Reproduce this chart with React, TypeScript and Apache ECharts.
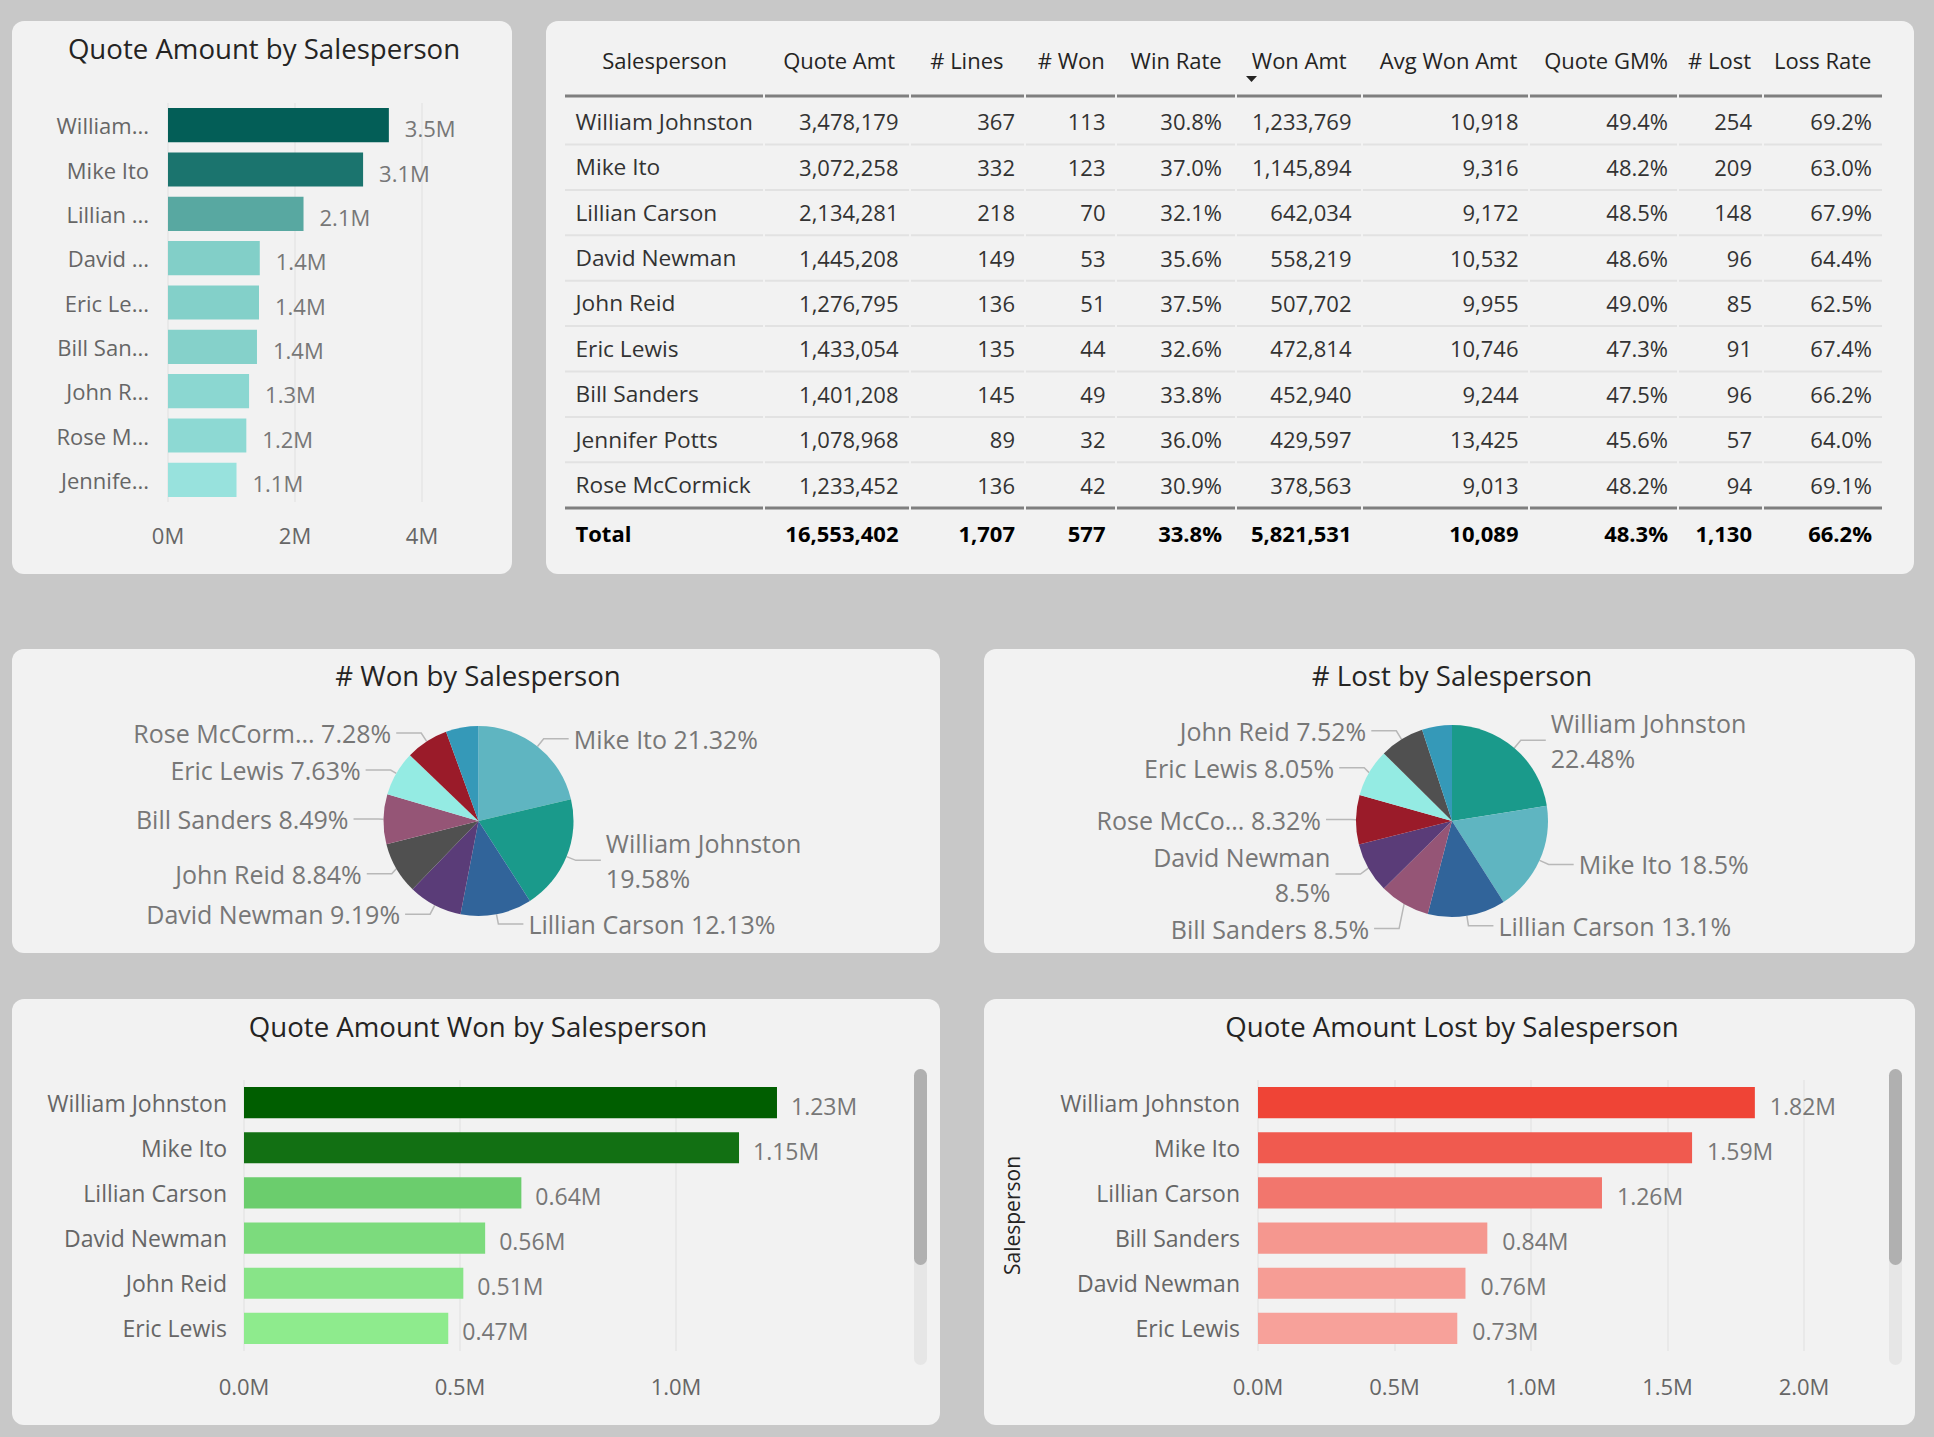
import React, { useEffect, useRef } from "react";
import * as echarts from "echarts";

const FONT = '"Open Sans", "Noto Sans", sans-serif';

// ---------- Table data ----------
const tableHeaders = ["Salesperson", "Quote Amt", "# Lines", "# Won", "Win Rate", "Won Amt", "Avg Won Amt", "Quote GM%", "# Lost", "Loss Rate"];
const tableNames = ["William Johnston", "Mike Ito", "Lillian Carson", "David Newman", "John Reid", "Eric Lewis", "Bill Sanders", "Jennifer Potts", "Rose McCormick"];
const tQuoteAmt = [3478179, 3072258, 2134281, 1445208, 1276795, 1433054, 1401208, 1078968, 1233452];
const tLines = [367, 332, 218, 149, 136, 135, 145, 89, 136];
const tWon = [113, 123, 70, 53, 51, 44, 49, 32, 42];
const tWinRate = [30.8, 37.0, 32.1, 35.6, 37.5, 32.6, 33.8, 36.0, 30.9];
const tWonAmt = [1233769, 1145894, 642034, 558219, 507702, 472814, 452940, 429597, 378563];
const tAvgWonAmt = [10918, 9316, 9172, 10532, 9955, 10746, 9244, 13425, 9013];
const tQuoteGM = [49.4, 48.2, 48.5, 48.6, 49.0, 47.3, 47.5, 45.6, 48.2];
const tLost = [254, 209, 148, 96, 85, 91, 96, 57, 94];
const tLossRate = [69.2, 63.0, 67.9, 64.4, 62.5, 67.4, 66.2, 64.0, 69.1];
const tTotals = { quoteAmt: 16553402, lines: 1707, won: 577, winRate: 33.8, wonAmt: 5821531, avgWonAmt: 10089, quoteGM: 48.3, lost: 1130, lossRate: 66.2 };

// ---------- Quote Amount by Salesperson ----------
const quoteCats = ["William Johnston", "Mike Ito", "Lillian Carson", "David Newman", "Eric Lewis", "Bill Sanders", "John Reid", "Rose McCormick", "Jennifer Potts"];
const quoteCatLabels = ["William...", "Mike Ito", "Lillian ...", "David ...", "Eric Le...", "Bill San...", "John R...", "Rose M...", "Jennife..."];
const quoteValues = [3478179, 3072258, 2134281, 1445208, 1433054, 1401208, 1276795, 1233452, 1078968];
const quoteTicks = [0, 2000000, 4000000];

// ---------- # Won / # Lost pies ----------
const wonPieNames = ["Mike Ito", "William Johnston", "Lillian Carson", "David Newman", "John Reid", "Bill Sanders", "Eric Lewis", "Rose McCormick", "Jennifer Potts"];
const wonPieValues = [123, 113, 70, 53, 51, 49, 44, 42, 32];
const wonPieLabels = ["Mike Ito", "William Johnston", "Lillian Carson", "David Newman", "John Reid", "Bill Sanders", "Eric Lewis", "Rose McCorm...", ""];
const wonPieWrapped = ["William Johnston"];

const lostPieNames = ["William Johnston", "Mike Ito", "Lillian Carson", "Bill Sanders", "David Newman", "Rose McCormick", "Eric Lewis", "John Reid", "Jennifer Potts"];
const lostPieValues = [254, 209, 148, 96, 96, 94, 91, 85, 57];
const lostPieLabels = ["William Johnston", "Mike Ito", "Lillian Carson", "Bill Sanders", "David Newman", "Rose McCo...", "Eric Lewis", "John Reid", ""];
const lostPieWrapped = ["William Johnston", "David Newman"];

// ---------- Quote Amount Won / Lost ----------
const wonBarCats = ["William Johnston", "Mike Ito", "Lillian Carson", "David Newman", "John Reid", "Eric Lewis"];
const wonBarValues = [1233769, 1145894, 642034, 558219, 507702, 472814];
const lostBarCats = ["William Johnston", "Mike Ito", "Lillian Carson", "Bill Sanders", "David Newman", "Eric Lewis"];
const lostBarValues = [1820000, 1590000, 1260000, 840000, 760000, 730000];

// ---------- Styles ----------
const quotePalette = ["#035E57", "#1B746E", "#58A8A1", "#82CFC8", "#83D0C9", "#85D1CA", "#8BD7D1", "#8DD9D3", "#98E2DD"];
const wonPalette = ["#005E00", "#127013", "#6BCD6D", "#7CDB7D", "#88E488", "#8EEB8D"];
const lostPalette = ["#EF4436", "#F05A4F", "#F2766D", "#F5978F", "#F69D95", "#F7A19A"];
const personColor: Record<string, string> = {
  "William Johnston": "#1A9A8B",
  "Mike Ito": "#5FB5C1",
  "Lillian Carson": "#31649A",
  "David Newman": "#5A3C78",
  "John Reid": "#505050",
  "Bill Sanders": "#955576",
  "Eric Lewis": "#94EBE3",
  "Rose McCormick": "#9A1B29",
  "Jennifer Potts": "#3599B8",
};

const panels = [
  { x: 12, y: 21, w: 500, h: 553 },
  { x: 546, y: 21, w: 1368, h: 553 },
  { x: 12, y: 649, w: 928, h: 304 },
  { x: 984, y: 649, w: 931, h: 304 },
  { x: 12, y: 999, w: 928, h: 426 },
  { x: 984, y: 999, w: 931, h: 426 },
];

const fmtInt = (v: number) => v.toLocaleString("en-US");
const fmtPct = (v: number) => v.toFixed(1) + "%";

function txt(text: string, x: number, y: number, align: string, font: string, fill: string) {
  return {
    type: "text",
    x,
    y,
    silent: true,
    style: { text, font, fill, textAlign: align, align, textVerticalAlign: "middle", verticalAlign: "middle" },
  };
}

function buildTable() {
  const els: any[] = [];
  const font = `22px ${FONT}`;
  const nameFont = `22.7px ${FONT}`;
  const bold = `bold 22px ${FONT}`;
  const bounds = [565, 764, 910, 1025, 1116, 1236, 1362, 1529, 1678, 1763, 1883];
  const dataRight = [0, 898.5, 1015, 1105.5, 1222, 1351.5, 1518.5, 1668, 1752, 1872];
  const headRight = [0, 895, 1003.5, 1104.7, 1221.7, 1346.7, 1517.3, 1667.9, 1751, 1871.4];
  const headerY = 60;
  const rowY0 = 121.3;
  const rowStep = 45.4;
  tableHeaders.forEach((h, c) => {
    if (c === 0) els.push(txt(h, 664.6, headerY, "center", font, "#252423"));
    else els.push(txt(h, headRight[c], headerY, "right", font, "#252423"));
  });
  els.push({ type: "polygon", silent: true, shape: { points: [[1246, 76], [1257, 76], [1251.5, 82]] }, style: { fill: "#252423" } });
  const segLine = (y: number, color: string, w: number) => {
    for (let c = 0; c < bounds.length - 1; c++) {
      els.push({
        type: "line",
        silent: true,
        shape: { x1: bounds[c] + (c === 0 ? 0 : 1), y1: y, x2: bounds[c + 1] - 1, y2: y },
        style: { stroke: color, lineWidth: w },
      });
    }
  };
  segLine(96, "#7f7f7f", 3);
  segLine(508, "#7f7f7f", 3);
  tableNames.forEach((name, r) => {
    const y = rowY0 + r * rowStep;
    const cells = [
      fmtInt(tQuoteAmt[r]), fmtInt(tLines[r]), fmtInt(tWon[r]), fmtPct(tWinRate[r]), fmtInt(tWonAmt[r]),
      fmtInt(tAvgWonAmt[r]), fmtPct(tQuoteGM[r]), fmtInt(tLost[r]), fmtPct(tLossRate[r]),
    ];
    els.push(txt(name, 575.5, y, "left", nameFont, "#333333"));
    cells.forEach((v, i) => els.push(txt(v, dataRight[i + 1], y, "right", font, "#333333")));
    if (r < tableNames.length - 1) segLine(y + rowStep / 2 + 0.5, "#e2e2e2", 2);
  });
  const ty = 533.2;
  const tcells = [
    fmtInt(tTotals.quoteAmt), fmtInt(tTotals.lines), fmtInt(tTotals.won), fmtPct(tTotals.winRate), fmtInt(tTotals.wonAmt),
    fmtInt(tTotals.avgWonAmt), fmtPct(tTotals.quoteGM), fmtInt(tTotals.lost), fmtPct(tTotals.lossRate),
  ];
  els.push(txt("Total", 575.5, ty, "left", bold, "#000000"));
  tcells.forEach((v, i) => els.push(txt(v, dataRight[i + 1], ty, "right", bold, "#000000")));
  return els;
}

function scrollbar(x: number) {
  return [
    { type: "rect", silent: true, shape: { x, y: 1069, width: 13, height: 296, r: 6.5 }, style: { fill: "#e6e6e6" } },
    { type: "rect", silent: true, shape: { x, y: 1069, width: 13, height: 196, r: 6.5 }, style: { fill: "#b0b0b0" } },
  ];
}

const titleFont = `27.6px ${FONT}`;
const titles = [
  txt("Quote Amount by Salesperson", 264, 48, "center", titleFont, "#252423"),
  txt("# Won by Salesperson", 478, 675, "center", titleFont, "#252423"),
  txt("# Lost by Salesperson", 1452, 675, "center", titleFont, "#252423"),
  txt("Quote Amount Won by Salesperson", 478, 1026, "center", titleFont, "#252423"),
  txt("Quote Amount Lost by Salesperson", 1452, 1026, "center", titleFont, "#252423"),
];

const axisText = { color: "#666666", fontSize: 22, fontFamily: FONT };
const catText = { color: "#666666", fontSize: 23, fontFamily: FONT };
const gridLine = { lineStyle: { color: "#e6e6e6", width: 1.5 } };

function pieSeries(names: string[], values: number[], labels: string[], wrapped: string[], cx: number, cy: number, r: number) {
  const total = values.reduce((a, b) => a + b, 0);
  return {
    type: "pie",
    center: [cx, cy],
    radius: r,
    startAngle: 90,
    clockwise: true,
    silent: true,
    avoidLabelOverlap: true,
    data: names.map((n, i) => ({
      name: n,
      value: values[i],
      itemStyle: { color: personColor[n] },
      ...(labels[i] ? {} : { label: { show: false }, labelLine: { show: false } }),
    })),
    label: {
      show: true,
      position: "outside",
      color: "#777777",
      fontSize: 25,
      fontFamily: FONT,
      lineHeight: 35,
      formatter: (p: any) => {
        const pct = String(Math.round((values[p.dataIndex] / total) * 10000) / 100) + "%";
        const nm = labels[p.dataIndex];
        return wrapped.includes(p.name) ? nm + "\n" + pct : nm + " " + pct;
      },
    },
    labelLine: { show: true, length: 10, length2: 25, lineStyle: { color: "#b8b8b8", width: 1.5 } },
  };
}

function buildOption() {
  return {
    animation: false,
    backgroundColor: "transparent",
    textStyle: { fontFamily: FONT },
    grid: [
      { left: 168, top: 103, width: 254, height: 399 },
      { left: 244, top: 1080, width: 648, height: 271 },
      { left: 1258, top: 1080, width: 546, height: 271 },
    ],
    xAxis: [
      {
        type: "value", gridIndex: 0, min: quoteTicks[0], max: quoteTicks[quoteTicks.length - 1], interval: quoteTicks[1] - quoteTicks[0],
        axisLabel: { ...axisText, margin: 22, formatter: (v: number) => (v / 1e6).toFixed(0) + "M" },
        axisLine: { show: false }, axisTick: { show: false }, splitLine: gridLine,
      },
      {
        type: "value", gridIndex: 1, min: 0, max: 1500000, interval: 500000,
        axisLabel: { ...axisText, margin: 24, showMaxLabel: false, formatter: (v: number) => (v / 1e6).toFixed(1) + "M" },
        axisLine: { show: false }, axisTick: { show: false }, splitLine: { ...gridLine, showMaxLine: false },
      },
      {
        type: "value", gridIndex: 2, min: 0, max: 2000000, interval: 500000,
        axisLabel: { ...axisText, margin: 24, formatter: (v: number) => (v / 1e6).toFixed(1) + "M" },
        axisLine: { show: false }, axisTick: { show: false }, splitLine: gridLine,
      },
    ],
    yAxis: [
      {
        type: "category", gridIndex: 0, data: quoteCats, inverse: true,
        axisLabel: { ...axisText, margin: 19, formatter: (_v: string, i: number) => quoteCatLabels[i] },
        axisLine: { show: false }, axisTick: { show: false },
      },
      {
        type: "category", gridIndex: 1, data: wonBarCats, inverse: true,
        axisLabel: { ...catText, margin: 17 },
        axisLine: { show: false }, axisTick: { show: false },
      },
      {
        type: "category", gridIndex: 2, data: lostBarCats, inverse: true,
        name: "Salesperson", nameLocation: "middle", nameRotate: 90, nameGap: 236,
        nameTextStyle: { color: "#252423", fontSize: 21, fontFamily: FONT },
        axisLabel: { ...catText, margin: 18 },
        axisLine: { show: false }, axisTick: { show: false },
      },
    ],
    series: [
      {
        type: "bar", xAxisIndex: 0, yAxisIndex: 0, barCategoryGap: "23%", silent: true,
        data: quoteValues.map((v, i) => ({ value: v, itemStyle: { color: quotePalette[i] } })),
        label: {
          show: true, position: "right", distance: 16, offset: [0, 3], color: "#777777", fontSize: 22, fontFamily: FONT,
          formatter: (p: any) => (p.value / 1e6).toFixed(1) + "M",
        },
      },
      pieSeries(wonPieNames, wonPieValues, wonPieLabels, wonPieWrapped, 478.5, 821, 95),
      pieSeries(lostPieNames, lostPieValues, lostPieLabels, lostPieWrapped, 1452, 821, 96),
      {
        type: "bar", xAxisIndex: 1, yAxisIndex: 1, barCategoryGap: "31%", silent: true,
        data: wonBarValues.map((v, i) => ({ value: v, itemStyle: { color: wonPalette[i] } })),
        label: {
          show: true, position: "right", distance: 14, offset: [0, 3], color: "#777777", fontSize: 23, fontFamily: FONT,
          formatter: (p: any) => (p.value / 1e6).toFixed(2) + "M",
        },
      },
      {
        type: "bar", xAxisIndex: 2, yAxisIndex: 2, barCategoryGap: "31%", silent: true,
        data: lostBarValues.map((v, i) => ({ value: v, itemStyle: { color: lostPalette[i] } })),
        label: {
          show: true, position: "right", distance: 15, offset: [0, 3], color: "#777777", fontSize: 23, fontFamily: FONT,
          formatter: (p: any) => (p.value / 1e6).toFixed(2) + "M",
        },
      },
    ],
    graphic: { elements: [...titles, ...buildTable(), ...scrollbar(914), ...scrollbar(1889)] },
  };
}

export default function App() {
  const ref = useRef<HTMLDivElement>(null);
  useEffect(() => {
    if (!ref.current) return;
    const chart = echarts.init(ref.current, null, { renderer: "svg" });
    chart.setOption(buildOption() as any);
    return () => chart.dispose();
  }, []);
  return (
    <div style={{ position: "fixed", left: 0, top: 0, width: 1934, height: 1437, background: "#c8c8c8", overflow: "hidden" }}>
      {panels.map((p, i) => (
        <div key={i} style={{ position: "absolute", left: p.x, top: p.y, width: p.w, height: p.h, background: "#f2f2f2", borderRadius: 12 }} />
      ))}
      <div ref={ref} style={{ position: "absolute", left: 0, top: 0, width: 1934, height: 1437 }} />
    </div>
  );
}
